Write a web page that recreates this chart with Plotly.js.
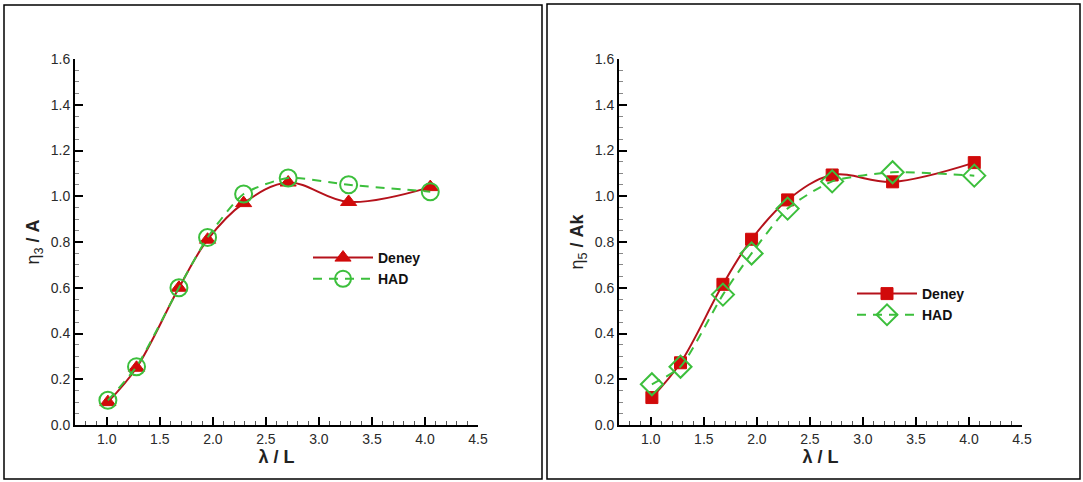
<!DOCTYPE html>
<html>
<head>
<meta charset="utf-8">
<script src="https://cdn.plot.ly/plotly-3.0.1.min.js"></script>
<style>html,body{margin:0;padding:0;background:#fff;}#chart{width:1083px;height:482px;}</style>
</head>
<body>
<div id="chart"></div>
<script>
// Wave length ratio (lambda / L)
const lambdaL = [1.01, 1.28, 1.68, 1.95, 2.29, 2.71, 3.28, 4.05];
// Heave (eta3 / A)
const heaveDeney = [0.10, 0.25, 0.60, 0.81, 0.97, 1.06, 0.975, 1.04];
const heaveHAD   = [0.108, 0.255, 0.60, 0.82, 1.01, 1.08, 1.05, 1.02];
// Pitch (eta5 / Ak)
const pitchDeney = [0.12, 0.272, 0.615, 0.812, 0.984, 1.093, 1.063, 1.147];
const pitchHAD   = [0.178, 0.255, 0.57, 0.75, 0.946, 1.065, 1.105, 1.09];
const seriesNames = ['Deney', 'HAD'];
const xTickVals = [1.0, 1.5, 2.0, 2.5, 3.0, 3.5, 4.0, 4.5];
const yTickVals = [0.0, 0.2, 0.4, 0.6, 0.8, 1.0, 1.2, 1.4, 1.6];

const RED = '#d10a0a', REDLINE = '#b5121b', GREEN = '#3cbf3c';
const FONT = 'Liberation Sans, Arial, sans-serif';

function deney(y, xa, ya, sym, size, leg) {
  return {x: lambdaL, y: y, xaxis: xa, yaxis: ya, name: seriesNames[0], legend: leg,
    mode: 'lines+markers', line: {color: REDLINE, width: 2, shape: 'spline', smoothing: 1},
    marker: {symbol: sym, size: size, color: RED, line: {color: RED, width: 1}}};
}
function had(y, xa, ya, sym, size, leg) {
  return {x: lambdaL, y: y, xaxis: xa, yaxis: ya, name: seriesNames[1], legend: leg,
    mode: 'lines+markers', line: {color: GREEN, width: 2, dash: '9px,7px', shape: 'spline', smoothing: 0.6},
    marker: {symbol: sym, size: size, color: 'rgba(255,255,255,0)', line: {color: GREEN, width: 2}}};
}

const data = [
  deney(heaveDeney, 'x', 'y', 'triangle-up', 14, 'legend'),
  had(heaveHAD, 'x', 'y', 'circle', 17, 'legend'),
  deney(pitchDeney, 'x2', 'y2', 'square', 12, 'legend2'),
  had(pitchHAD, 'x2', 'y2', 'diamond', 17, 'legend2')
];

function xax(domain, anchor) {
  return {domain: domain, anchor: anchor, range: [0.7, 4.5], tickvals: xTickVals,
    tickformat: '.1f', showgrid: false, zeroline: false, showline: true, linecolor: '#000', linewidth: 2,
    ticks: 'inside', ticklen: 8, tickwidth: 2, tickcolor: '#000',
    minor: {dtick: 0.1, tick0: 0.7, ticks: 'inside', ticklen: 4, tickwidth: 1, tickcolor: '#555'},
    tickfont: {family: FONT, size: 14, color: '#2a2a2a'},
    title: {text: '<b>λ / L</b>', font: {family: FONT, size: 18, color: '#222'}, standoff: 0},
    fixedrange: true};
}
function yax(domain, anchor, label) {
  return {domain: domain, anchor: anchor, range: [0, 1.6], tickvals: yTickVals,
    tickformat: '.1f', showgrid: false, zeroline: false, showline: true, linecolor: '#000', linewidth: 2,
    ticks: 'inside', ticklen: 8, tickwidth: 2, tickcolor: '#000',
    minor: {dtick: 0.05, ticks: 'inside', ticklen: 4, tickwidth: 1, tickcolor: '#888'},
    tickfont: {family: FONT, size: 14, color: '#2a2a2a'},
    title: {text: label, font: {family: FONT, size: 18, color: '#222'}, standoff: 6},
    fixedrange: true};
}

const yDom = [1 - 425/482, 1 - 59/482];
const layout = {
  width: 1083, height: 482,
  margin: {l: 0, r: 0, t: 0, b: 0},
  paper_bgcolor: '#fff', plot_bgcolor: 'rgba(0,0,0,0)',
  xaxis: xax([75/1083, 478/1083], 'y'),
  yaxis: yax(yDom, 'x', 'η<sub>3</sub> <b>/ A</b>'),
  xaxis2: xax([619/1083, 1022/1083], 'y2'),
  yaxis2: yax(yDom, 'x2', 'η<sub>5</sub> <b>/ Ak</b>'),
  legend: {x: 308/1083, y: 1 - 242/482, xanchor: 'left', yanchor: 'top', bgcolor: 'rgba(0,0,0,0)',
    font: {family: FONT, size: 14, color: '#111', weight: 'bold'}, itemwidth: 60, tracegroupgap: 0},
  legend2: {x: 852/1083, y: 1 - 278/482, xanchor: 'left', yanchor: 'top', bgcolor: 'rgba(0,0,0,0)',
    font: {family: FONT, size: 14, color: '#111', weight: 'bold'}, itemwidth: 60, tracegroupgap: 0},
  shapes: [
    {type: 'rect', xref: 'paper', yref: 'paper', x0: 4/1083, x1: 542/1083, y0: 1 - 479/482, y1: 1 - 5/482,
      line: {color: '#000', width: 1.5}},
    {type: 'rect', xref: 'paper', yref: 'paper', x0: 547/1083, x1: 1080/1083, y0: 1 - 479/482, y1: 1 - 4/482,
      line: {color: '#000', width: 1.5}}
  ],
  showlegend: true
};

Plotly.newPlot('chart', data, layout, {displayModeBar: false, staticPlot: true});
</script>
</body>
</html>
